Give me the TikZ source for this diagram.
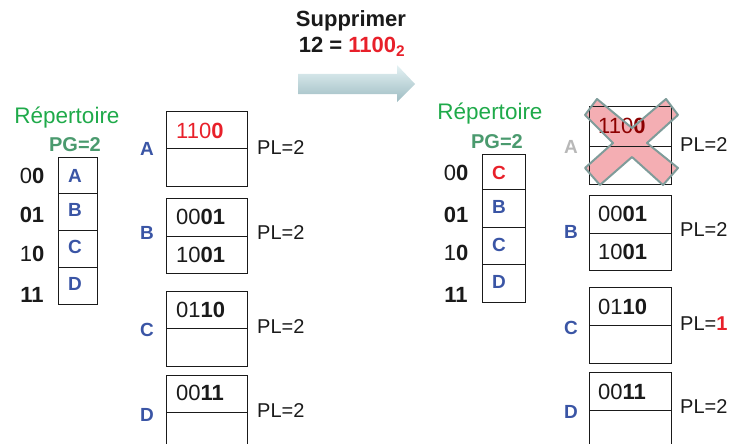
\documentclass[tikz,border=0pt]{standalone}
\usepackage{fontspec}
\setmainfont{Liberation Sans}
\definecolor{dirblue}{HTML}{3A55A5}
\definecolor{repgreen}{HTML}{1FAA4A}
\definecolor{pggreen}{HTML}{4A9A6E}
\definecolor{hotred}{HTML}{E8202A}
\definecolor{deadgray}{HTML}{B8B8B8}
\definecolor{crosspink}{HTML}{F2A0A6}
\definecolor{crossline}{HTML}{7F9C9A}
\definecolor{txtblack}{HTML}{1A1A1A}
\definecolor{arrowtop}{HTML}{E4F2F4}
\definecolor{arrowmid}{HTML}{D2E7EA}
\definecolor{arrowbot}{HTML}{9EBCC2}

\begin{document}
\begin{tikzpicture}[x=1pt,y=-1pt,
    every node/.style={inner sep=0pt},
    big/.style={font=\fontsize{22}{26}\selectfont,text=txtblack},
    pl/.style={font=\fontsize{20}{24}\selectfont,text=txtblack,anchor=west},
    letter/.style={font=\fontsize{19}{22}\selectfont\bfseries,text=dirblue},
    entry/.style={big,anchor=west},
    box/.style={draw=txtblack,line width=1pt}]
  \useasboundingbox (0,0) rectangle (731,444);

  % titre et fleche
  \node[big,font=\fontsize{22}{26}\selectfont\bfseries] (title) at (351,21) {Supprimer};
  \node[big,font=\fontsize{22}{26}\selectfont\bfseries] (key) at (352,47)
    {12 = \textcolor{hotred}{1100\textsubscript{2}}};
  \shade[top color=arrowtop,middle color=arrowmid,bottom color=arrowbot]
    (298,74) -- (397,74) -- (397,65) -- (415,84) -- (397,102) -- (397,94) -- (298,94) -- cycle;

  % ---------- avant ----------
  \node[font=\fontsize{22.5}{26}\selectfont,text=repgreen] (repL) at (67,118) {Répertoire};
  \node[font=\fontsize{20}{24}\selectfont\bfseries,text=pggreen] (pgL) at (75,145) {PG=2};
  \draw[box] (58,157) rectangle (97,304);
  \foreach \y in {193,230,267} \draw[box] (58,\y) -- (97,\y);
  \node[letter] (dA) at (75,176) {A};
  \node[letter] (dB) at (75,210) {B};
  \node[letter] (dC) at (75,247) {C};
  \node[letter] (dD) at (75,284) {D};
  \node[big] (b00) at (32,176) {0\textbf{0}};
  \node[big] (b01) at (32,215) {\textbf{01}};
  \node[big] (b10) at (32,254) {1\textbf{0}};
  \node[big] (b11) at (32,295) {\textbf{11}};

  % paquets
  \draw[box] (166,111) rectangle (247,186);
  \draw[box] (166,148) -- (247,148);
  \node[entry,text=hotred] (aL) at (176,131) {110\textbf{0}};
  \node[letter] (lA) at (147,149) {A};
  \node[pl] (plA) at (257,148) {PL=2};

  \draw[box] (166,198) rectangle (247,273);
  \draw[box] (166,236) -- (247,236);
  \node[entry] (bL1) at (176,217) {00\textbf{01}};
  \node[entry] (bL2) at (176,255) {10\textbf{01}};
  \node[letter] (lB) at (147,233) {B};
  \node[pl] (plB) at (257,233) {PL=2};

  \draw[box] (166,291) rectangle (247,366);
  \draw[box] (166,328) -- (247,328);
  \node[entry] (cL) at (176,310) {01\textbf{10}};
  \node[letter] (lC) at (147,330) {C};
  \node[pl] (plC) at (257,327) {PL=2};

  \draw[box] (166,375) rectangle (247,460);
  \draw[box] (166,412) -- (247,412);
  \node[entry] (dL) at (176,393) {00\textbf{11}};
  \node[letter] (lD) at (147,415) {D};
  \node[pl] (plD) at (257,411) {PL=2};

  % ---------- apres ----------
  \node[font=\fontsize{22.5}{26}\selectfont,text=repgreen] (repR) at (490,114) {Répertoire};
  \node[font=\fontsize{20}{24}\selectfont\bfseries,text=pggreen] (pgR) at (497,142) {PG=2};
  \draw[box] (482,154) rectangle (525,302);
  \foreach \y in {189,227,264} \draw[box] (482,\y) -- (525,\y);
  \node[letter,text=hotred] (eA) at (499,173) {C};
  \node[letter] (eB) at (499,207) {B};
  \node[letter] (eC) at (499,245) {C};
  \node[letter] (eD) at (499,282) {D};
  \node[big] (c00) at (456,173) {0\textbf{0}};
  \node[big] (c01) at (456,215) {\textbf{01}};
  \node[big] (c10) at (456,253) {1\textbf{0}};
  \node[big] (c11) at (456,295) {\textbf{11}};

  % paquet A supprime
  \fill[crosspink,fill opacity=.85]
    (585,115) -- (597,99) -- (632,128) -- (666,99) -- (678,115) -- (647,143)
    -- (678,168) -- (663,185) -- (632,157) -- (600,185) -- (585,168) -- (613,143) -- cycle;
  \draw[box] (589,106) rectangle (671,184);
  \draw[box] (589,146) -- (671,146);
  \node[entry,text=red!55!black] (aR) at (598,126) {110\textbf{0}};
  \draw[crossline,line width=2pt,line join=round]
    (585,115) -- (597,99) -- (632,128) -- (666,99) -- (678,115) -- (647,143)
    -- (678,168) -- (663,185) -- (632,157) -- (600,185) -- (585,168) -- (613,143) -- cycle;
  \node[letter,text=deadgray] (mA) at (571,147) {A};
  \node[pl] (qA) at (680,145) {PL=2};

  \draw[box] (589,195) rectangle (671,270);
  \draw[box] (589,233) -- (671,233);
  \node[entry] (bR1) at (598,214) {00\textbf{01}};
  \node[entry] (bR2) at (598,252) {10\textbf{01}};
  \node[letter] (mB) at (571,232) {B};
  \node[pl] (qB) at (680,230) {PL=2};

  \draw[box] (589,287) rectangle (671,363);
  \draw[box] (589,325) -- (671,325);
  \node[entry] (cR) at (598,307) {01\textbf{10}};
  \node[letter] (mC) at (571,328) {C};
  \node[pl] (qC) at (680,324) {PL=\textcolor{hotred}{\textbf{1}}};

  \draw[box] (589,372) rectangle (671,460);
  \draw[box] (589,410) -- (671,410);
  \node[entry] (dR) at (598,392) {00\textbf{11}};
  \node[letter] (mD) at (571,412) {D};
  \node[pl] (qD) at (680,407) {PL=2};
\end{tikzpicture}
\end{document}
